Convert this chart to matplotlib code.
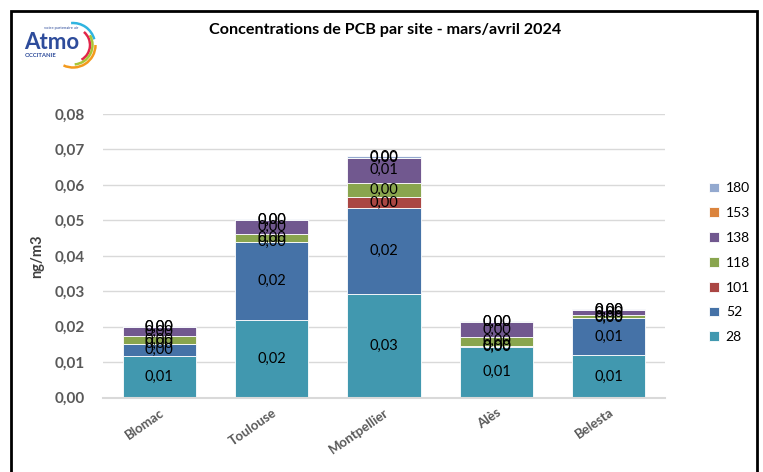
import matplotlib
matplotlib.use("Agg")
import matplotlib.pyplot as plt
from matplotlib.patches import Rectangle, Arc
import numpy as np

plt.rcParams['font.family'] = ['Lato', 'DejaVu Sans']

sites = ["Blomac", "Toulouse", "Montpellier", "Alès", "Belesta"]
series_names = ["28", "52", "101", "118", "138", "153", "180"]
v28 = [0.0117, 0.0219, 0.0292, 0.0143, 0.0120]
v52 = [0.0034, 0.0220, 0.0242, 0.0002, 0.0104]
v101 = [0.0001, 0.0001, 0.0032, 0.0001, 0.0001]
v118 = [0.0021, 0.0022, 0.0040, 0.0026, 0.0007]
v138 = [0.0026, 0.0039, 0.0071, 0.0041, 0.0015]
v153 = [0.0001, 0.0001, 0.0000, 0.0001, 0.0001]
v180 = [0.0001, 0.0001, 0.0005, 0.0001, 0.0001]
colors = ["#4198AF", "#4572A7", "#AA4643", "#89A54E", "#71588F", "#DB843D", "#93A9CF"]
yticks = [0.00, 0.01, 0.02, 0.03, 0.04, 0.05, 0.06, 0.07, 0.08]

values = [v28, v52, v101, v118, v138, v153, v180]

fig = plt.figure(figsize=(7.63, 4.72), dpi=100)
ax = fig.add_axes([0.135, 0.1574, 0.7366, 0.601])

x = np.arange(len(sites))
bottom = np.zeros(len(sites))
handles = []
for name, vals, col in zip(series_names, values, colors):
    vals = np.array(vals)
    bars = ax.bar(x, vals, bottom=bottom, width=0.65, color=col,
                  edgecolor="white", linewidth=0.6, label=name, zorder=2)
    handles.append(bars)
    for xi, b, v in zip(x, bottom, vals):
        ax.text(xi, b + v / 2, f"{v:.2f}".replace(".", ","), ha="center",
                va="center", fontsize=10.5, color="black", zorder=3)
    bottom = bottom + vals

ax.set_xlim(-0.5, len(sites) - 0.5)
ax.set_ylim(0, 0.08)
ax.set_yticks(yticks)
ax.set_yticklabels([f"{t:.2f}".replace(".", ",") for t in yticks],
                   fontsize=11, fontweight="bold", color="#595959")
ax.yaxis.grid(True, color="#D9D9D9", linewidth=1, zorder=0)
ax.set_axisbelow(True)
ax.tick_params(axis="y", length=0, pad=13)
ax.tick_params(axis="x", length=0, pad=6)
ax.set_xticks(x)
ax.set_xticklabels(sites, rotation=35, ha="right", rotation_mode="anchor",
                   fontsize=9.5, fontweight="bold", color="#595959")
for s in ["top", "right", "left"]:
    ax.spines[s].set_visible(False)
ax.spines["bottom"].set_color("#D9D9D9")
ax.spines["bottom"].set_linewidth(1.5)
ax.set_ylabel("ng/m3", fontsize=10.5, fontweight="bold", color="#404040")
ax.yaxis.set_label_coords(-0.105, 0.5)

leg = ax.legend(handles[::-1], series_names[::-1], loc="upper left",
                bbox_to_anchor=(0.913, 0.64), bbox_transform=fig.transFigure,
                frameon=False, fontsize=10, handlelength=0.7, handleheight=0.7,
                labelspacing=0.92, handletextpad=0.5)

fig.text(0.505, 0.936, "Concentrations de PCB par site - mars/avril 2024",
         ha="center", va="center", fontsize=11.6, fontweight="bold", color="black")

# frame
fig.patches.append(Rectangle((11 / 763, -0.05), (757 - 11) / 763, 1 - 11 / 472 + 0.05,
                             transform=fig.transFigure, fill=False,
                             edgecolor="black", linewidth=2))

# logo
lax = fig.add_axes([20 / 763, 1 - 70 / 472, 80 / 763, 50 / 472])
lax.set_xlim(0, 80)
lax.set_ylim(0, 50)
lax.axis("off")
lax.text(4, 21, "Atmo", fontsize=16, fontweight="bold", color="#2E4C9B", va="baseline", ha="left")
lax.text(5, 13, "OCCITANIE", fontsize=4.3, fontweight="bold", color="#2E4C9B", va="baseline", ha="left")
lax.text(24, 41, "votre partenaire air", fontsize=3, color="#2E4C9B", va="baseline", ha="left")
for r, col, t1, t2 in [(22, "#2FB4E0", 15, 95), (17, "#E2264A", -60, 50),
                       (19.5, "#A9C536", -85, 30), (22.5, "#F39A1D", -115, 0)]:
    lax.add_patch(Arc((53, 25), r * 2, r * 2, theta1=t1, theta2=t2, color=col, linewidth=1.8))
lax.set_aspect("equal")

fig.savefig("out.png", dpi=100)
